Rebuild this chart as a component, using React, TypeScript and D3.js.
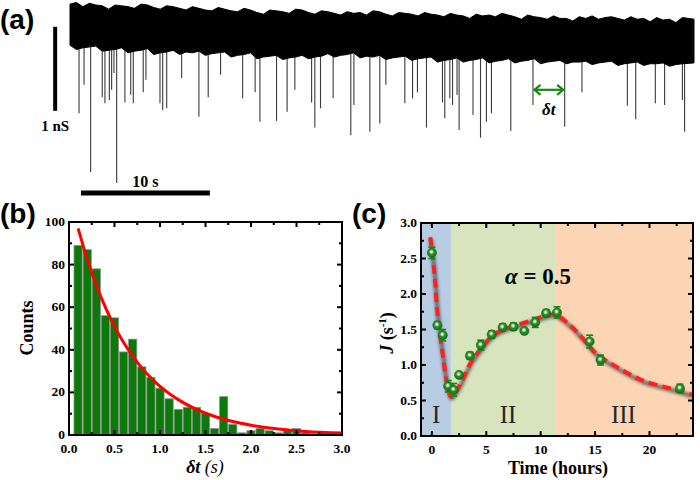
import React from 'react';
import * as d3 from 'd3';

// ---------- Panel (a): conductance trace ----------
const traceTimes = d3.range(0, 48, 0.5).concat([48.4]); // seconds
const traceTop = [0.07, 0.09, 0.04, 0.08, 0.06, 0.05, 0.01, 0.06, 0.05, 0.04, 0.02, 0.07, 0.06, 0.03, 0.01, 0.05, 0.04, 0.02, 0.0, 0.04, 0.02, 0.0, -0.01, 0.03, 0.01, -0.01, -0.02, 0.02, 0.0, -0.03, -0.05, 0.0, -0.01, -0.02, -0.04, 0.01, 0.0, -0.03, -0.05, -0.01, -0.02, -0.04, -0.06, -0.02, -0.04, -0.03, -0.06, -0.01, -0.02, -0.05, -0.07, -0.03, -0.04, -0.05, -0.07, -0.03, -0.05, -0.06, -0.08, -0.04, -0.06, -0.07, -0.1, -0.05, -0.07, -0.06, -0.08, -0.04, -0.06, -0.08, -0.11, -0.06, -0.08, -0.09, -0.11, -0.07, -0.1, -0.1, -0.13, -0.08, -0.1, -0.07, -0.11, -0.09, -0.08, -0.1, -0.12, -0.08, -0.11, -0.1, -0.14, -0.09, -0.12, -0.11, -0.15, -0.09, -0.11];
const traceBottom = [-0.42, -0.47, -0.45, -0.44, -0.43, -0.49, -0.48, -0.47, -0.45, -0.51, -0.49, -0.48, -0.46, -0.53, -0.51, -0.5, -0.48, -0.53, -0.5, -0.51, -0.49, -0.54, -0.52, -0.51, -0.5, -0.56, -0.54, -0.53, -0.51, -0.58, -0.56, -0.55, -0.54, -0.59, -0.57, -0.56, -0.54, -0.58, -0.56, -0.55, -0.52, -0.56, -0.54, -0.53, -0.51, -0.57, -0.55, -0.56, -0.54, -0.59, -0.57, -0.56, -0.55, -0.6, -0.58, -0.57, -0.56, -0.62, -0.6, -0.59, -0.57, -0.62, -0.6, -0.59, -0.57, -0.63, -0.61, -0.6, -0.58, -0.63, -0.61, -0.6, -0.58, -0.64, -0.62, -0.61, -0.6, -0.64, -0.62, -0.62, -0.61, -0.65, -0.63, -0.62, -0.61, -0.66, -0.64, -0.63, -0.62, -0.66, -0.64, -0.64, -0.63, -0.67, -0.65, -0.64, -0.63];
const spikeTimes = [0.7, 1.09, 1.6, 2.5, 2.71, 3.05, 3.23, 3.41, 3.62, 4.26, 4.71, 4.91, 5.68, 5.89, 6.98, 7.19, 7.5, 8.66, 10.0, 10.72, 11.68, 13.39, 14.36, 14.73, 16.02, 16.84, 17.44, 18.74, 18.99, 19.43, 20.41, 21.78, 22.02, 23.26, 24.03, 24.5, 25.97, 26.57, 26.95, 27.65, 28.89, 29.07, 29.46, 29.67, 30.02, 30.18, 31.26, 31.84, 32.3, 32.69, 34.19, 35.91, 38.37, 39.71, 43.23, 43.88, 45.4, 46.12, 47.5, 47.67];
const spikeLevels = [-1.23, -0.89, -1.93, -1.04, -1.11, -1.07, -0.95, -0.75, -2.06, -1.1, -1.01, -1.11, -0.98, -0.83, -1.11, -1.19, -1.17, -0.81, -1.27, -1.04, -0.77, -1.05, -0.98, -1.33, -1.32, -1.21, -0.95, -1.1, -1.4, -1.17, -1.05, -1.49, -1.13, -1.45, -1.35, -0.89, -1.11, -1.05, -0.98, -1.4, -1.1, -1.29, -1.05, -1.13, -1.01, -1.43, -1.25, -1.52, -1.33, -1.23, -1.44, -1.13, -1.39, -0.98, -1.14, -1.3, -1.11, -1.13, -1.07, -1.45];

// ---------- Panel (b): histogram ----------
const binCenters = [0.1, 0.2, 0.3, 0.4, 0.5, 0.6, 0.7, 0.8, 0.9, 1.0, 1.1, 1.2, 1.3, 1.4, 1.5, 1.6, 1.7, 1.8, 1.9, 2.0, 2.1, 2.2, 2.3, 2.4, 2.5, 2.6, 2.7, 2.8, 2.9];
const binCounts = [89, 87, 78, 56, 55, 39, 45, 32, 27, 22, 17, 12, 13, 13, 10, 3, 18, 5, 1, 2, 3, 2, 1, 2, 3, 1, 0.5, 1, 0.5];
const fitX = [0.1, 0.2, 0.3, 0.4, 0.5, 0.6, 0.7, 0.8, 0.9, 1.0, 1.2, 1.4, 1.6, 1.8, 2.0, 2.3, 2.6, 3.0];
const fitY = [97, 82.6, 70.3, 59.9, 51.0, 43.4, 37.0, 31.5, 26.8, 22.8, 16.6, 12.0, 8.7, 6.3, 4.6, 2.8, 1.7, 0.9];
const bXTicks = [0, 0.5, 1.0, 1.5, 2.0, 2.5, 3.0];
const bXMinor = [0.25, 0.75, 1.25, 1.75, 2.25, 2.75];
const bYTicks = [0, 20, 40, 60, 80, 100];
const bYMinor = [10, 30, 50, 70, 90];

// ---------- Panel (c): rate vs time ----------
const hours = [0, 0.5, 1, 1.5, 2, 2.5, 3.5, 4.5, 5.5, 6.5, 7.5, 8.5, 9.5, 10.5, 11.5, 14.5, 15.5, 22.8];
const rate = [2.58, 1.56, 1.42, 0.7, 0.65, 0.86, 1.13, 1.28, 1.43, 1.53, 1.54, 1.48, 1.6, 1.73, 1.74, 1.33, 1.07, 0.67];
const rateErr = [0.08, 0.05, 0.08, 0.08, 0.09, 0.03, 0.05, 0.07, 0.05, 0.05, 0.05, 0.03, 0.07, 0.05, 0.08, 0.09, 0.07, 0.06];
const modelHours = [-0.15, 0.13, 0.3, 0.5, 0.75, 1.05, 1.3, 1.55, 1.8, 2.5, 3.6, 4.6, 5.6, 6.6, 7.8, 9.0, 10.2, 11.3, 12.7, 13.9, 15.1, 17.0, 19.4, 21.9, 24.0];
const modelRate = [2.8, 2.45, 2.17, 1.75, 1.42, 1.09, 0.81, 0.62, 0.55, 0.7, 1.04, 1.25, 1.42, 1.5, 1.56, 1.62, 1.68, 1.71, 1.56, 1.37, 1.16, 0.97, 0.78, 0.67, 0.58];
const phaseNames = ['I', 'II', 'III'];
const phaseStart = [-1, 1.75, 11.4];
const phaseEnd = [1.75, 11.4, 24];
const phaseLabelX = [0.4, 7.0, 17.6];
const cXTicks = [0, 5, 10, 15, 20];
const cXMinor = [2.5, 7.5, 12.5, 17.5, 22.5];
const cYTicks = [0, 0.5, 1.0, 1.5, 2.0, 2.5, 3.0];
const cYMinor = [0.25, 0.75, 1.25, 1.75, 2.25, 2.75];

const phaseColors = ['#b8cce4', '#d7e4bd', '#fcd5b4'];
const SERIF = '"Liberation Serif", "Times New Roman", serif';
const SANS = '"Liberation Sans", Arial, sans-serif';

type FrameProps = {
  x: d3.ScaleLinear<number, number>;
  y: d3.ScaleLinear<number, number>;
  xMajor: number[]; xMinor: number[]; yMajor: number[]; yMinor: number[];
  xFmt: (v: number) => string; yFmt: (v: number) => string;
};

function Frame({ x, y, xMajor, xMinor, yMajor, yMinor, xFmt, yFmt }: FrameProps) {
  const [x0, x1] = x.range();
  const [yb, yt] = y.range();
  const M = 5, m = 3;
  return (
    <g stroke="#000" strokeWidth={2}>
      {xMajor.map((v) => (
        <g key={'xM' + v}>
          <line x1={x(v)} x2={x(v)} y1={yb} y2={yb - M} />
          <line x1={x(v)} x2={x(v)} y1={yt} y2={yt + M} />
          <text x={x(v)} y={yb + 18} textAnchor="middle" stroke="none" fill="#000"
            fontFamily={SERIF} fontWeight="bold" fontSize={13.5}>{xFmt(v)}</text>
        </g>
      ))}
      {xMinor.map((v) => (
        <g key={'xm' + v}>
          <line x1={x(v)} x2={x(v)} y1={yb} y2={yb - m} />
          <line x1={x(v)} x2={x(v)} y1={yt} y2={yt + m} />
        </g>
      ))}
      {yMajor.map((v) => (
        <g key={'yM' + v}>
          <line x1={x0} x2={x0 + M} y1={y(v)} y2={y(v)} />
          <line x1={x1} x2={x1 - M} y1={y(v)} y2={y(v)} />
          <text x={x0 - 4} y={y(v) + 4} textAnchor="end" stroke="none" fill="#000"
            fontFamily={SERIF} fontWeight="bold" fontSize={13.5}>{yFmt(v)}</text>
        </g>
      ))}
      {yMinor.map((v) => (
        <g key={'ym' + v}>
          <line x1={x0} x2={x0 + m} y1={y(v)} y2={y(v)} />
          <line x1={x1} x2={x1 - m} y1={y(v)} y2={y(v)} />
        </g>
      ))}
      <rect x={x0} y={yt} width={x1 - x0} height={yb - yt} fill="none" />
    </g>
  );
}

export default function App() {
  // Panel (a) scales
  const xA = d3.scaleLinear().domain([0, 48.4]).range([70, 694]);
  const yA = d3.scaleLinear().domain([0, -1]).range([10, 94]);
  const band = d3.area<number>()
    .x((t) => xA(t))
    .y0((_, i) => yA(traceBottom[i]))
    .y1((_, i) => yA(traceTop[i]))
    .curve(d3.curveLinear);
  const bandPath = band(traceTimes) || '';

  // Panel (b) scales
  const xB = d3.scaleLinear().domain([0, 3]).range([69, 342]);
  const yB = d3.scaleLinear().domain([0, 100]).range([435, 222]);
  const fitLine = d3.line<number>().x((_, i) => xB(fitX[i])).y((_, i) => yB(fitY[i])).curve(d3.curveMonotoneX);
  const barW = xB(0.09) - xB(0);

  // Panel (c) scales
  const xC = d3.scaleLinear().domain([-1, 24]).range([421, 693]);
  const yC = d3.scaleLinear().domain([0, 3]).range([436, 223]);
  const modelLine = d3.line<number>().x((_, i) => xC(modelHours[i])).y((_, i) => yC(modelRate[i])).curve(d3.curveCatmullRom.alpha(0.5));
  const modelPath = modelLine(modelHours) || '';

  const green = '#138a13';
  const arrowY = yA(-0.95);
  const ax0 = xA(35.95), ax1 = xA(38.33);

  return (
    <svg width={700} height={480} viewBox="0 0 700 480"
      style={{ position: 'absolute', left: 0, top: 0, background: '#fff' }}>
      <defs>
        <filter id="blur" x="-10%" y="-10%" width="120%" height="120%">
          <feGaussianBlur stdDeviation={1.8} />
        </filter>
        <radialGradient id="ball" cx="45%" cy="40%" r="60%">
          <stop offset="0%" stopColor="#ffffff" />
          <stop offset="22%" stopColor="#b5dcaa" />
          <stop offset="45%" stopColor="#2c8f2c" />
          <stop offset="100%" stopColor="#156f15" />
        </radialGradient>
        <clipPath id="clipC">
          <rect x={xC.range()[0]} y={yC.range()[1]} width={xC.range()[1] - xC.range()[0]} height={yC.range()[0] - yC.range()[1]} />
        </clipPath>
        <clipPath id="clipB">
          <rect x={xB.range()[0]} y={yB.range()[1]} width={xB.range()[1] - xB.range()[0]} height={yB.range()[0] - yB.range()[1]} />
        </clipPath>
      </defs>

      {/* ---------------- Panel (a) ---------------- */}
      <text x={0} y={29} fontFamily={SANS} fontWeight="bold" fontSize={28}>(a)</text>
      <g stroke="#3a3a3a" strokeWidth={1.1}>
        {spikeTimes.map((t, i) => (
          <line key={'sp' + i} x1={xA(t)} x2={xA(t)} y1={yA(-0.3)} y2={yA(spikeLevels[i])} />
        ))}
      </g>
      <path d={bandPath} fill="#000" stroke="#000" strokeWidth={1} strokeLinejoin="miter" />
      {/* vertical scale bar: 1 nS */}
      <line x1={xA(-1.15)} x2={xA(-1.15)} y1={yA(-0.2)} y2={yA(-1.2)} stroke="#000" strokeWidth={4} />
      <text x={xA(-1.15)} y={131} textAnchor="middle" fontFamily={SERIF} fontWeight="bold" fontSize={15}>1 nS</text>
      {/* horizontal scale bar: 10 s */}
      <line x1={xA(0.85)} x2={xA(10.85)} y1={yA(-2.18)} y2={yA(-2.18)} stroke="#000" strokeWidth={5} />
      <text x={xA(5.85)} y={187} textAnchor="middle" fontFamily={SERIF} fontWeight="bold" fontSize={16}>10 s</text>
      {/* delta t arrow */}
      <g stroke={green} strokeWidth={2.2} fill="none">
        <line x1={ax0 + 1} x2={ax1 - 1} y1={arrowY} y2={arrowY} />
        <polyline points={`${ax0 + 7},${arrowY - 5} ${ax0 + 1},${arrowY} ${ax0 + 7},${arrowY + 5}`} />
        <polyline points={`${ax1 - 7},${arrowY - 5} ${ax1 - 1},${arrowY} ${ax1 - 7},${arrowY + 5}`} />
      </g>
      <text x={(ax0 + ax1) / 2} y={115} textAnchor="middle" fontFamily={SERIF} fontStyle="italic" fontWeight="bold" fontSize={17}>δt</text>

      {/* ---------------- Panel (b) ---------------- */}
      <text x={0} y={223} fontFamily={SANS} fontWeight="bold" fontSize={28}>(b)</text>
      <g clipPath="url(#clipB)">
        {binCenters.map((c, i) => (
          <rect key={'bar' + i} x={xB(c) - barW / 2} y={yB(binCounts[i])} width={barW}
            height={yB(0) - yB(binCounts[i])} fill="#0b7a0b" stroke="#8c8c8c" strokeWidth={0.8} />
        ))}
        <path d={fitLine(fitX) || ''} fill="none" stroke="#ff0000" strokeWidth={3} />
      </g>
      <Frame x={xB} y={yB} xMajor={bXTicks} xMinor={bXMinor} yMajor={bYTicks} yMinor={bYMinor}
        xFmt={(v) => v.toFixed(1)} yFmt={(v) => String(v)} />
      <text transform="translate(33,328) rotate(-90)" textAnchor="middle" fontFamily={SERIF} fontWeight="bold" fontSize={18}>Counts</text>
      <text x={205} y={473} textAnchor="middle" fontFamily={SERIF} fontSize={18}>
        <tspan fontStyle="italic" fontWeight="bold">δt</tspan>
        <tspan fontStyle="italic"> (s)</tspan>
      </text>

      {/* ---------------- Panel (c) ---------------- */}
      <text x={352} y={223} fontFamily={SANS} fontWeight="bold" fontSize={28}>(c)</text>
      <g clipPath="url(#clipC)">
        {phaseNames.map((p, i) => (
          <rect key={'ph' + p} x={xC(phaseStart[i])} y={yC(3)} width={xC(phaseEnd[i]) - xC(phaseStart[i])}
            height={yC(0) - yC(3)} fill={phaseColors[i]} />
        ))}
        {phaseNames.map((p, i) => (
          <text key={'pl' + p} x={xC(phaseLabelX[i])} y={423} textAnchor="middle"
            fontFamily={SERIF} fontSize={25} fill="#262626">{p}</text>
        ))}
        <path d={modelPath} fill="none" stroke="#444" strokeOpacity={0.7} strokeWidth={4.5}
          filter="url(#blur)" transform="translate(0.5,1.5)" />
        <path d={modelPath} fill="none" stroke="#ff2020" strokeWidth={4} strokeDasharray="9,5" />
        <g>
          {hours.map((h, i) => (
            <g key={'pt' + i}>
              <g stroke={green} strokeWidth={1.6}>
                <line x1={xC(h)} x2={xC(h)} y1={yC(rate[i] - rateErr[i])} y2={yC(rate[i] + rateErr[i])} />
                <line x1={xC(h) - 3.5} x2={xC(h) + 3.5} y1={yC(rate[i] - rateErr[i])} y2={yC(rate[i] - rateErr[i])} />
                <line x1={xC(h) - 3.5} x2={xC(h) + 3.5} y1={yC(rate[i] + rateErr[i])} y2={yC(rate[i] + rateErr[i])} />
              </g>
              <circle cx={xC(h)} cy={yC(rate[i])} r={4.6} fill="url(#ball)" stroke="#0f6e0f" strokeWidth={0.6} />
            </g>
          ))}
        </g>
        <text x={xC(9.75)} y={284} textAnchor="middle" fontFamily={SERIF} fontWeight="bold" fontSize={23}>
          <tspan fontStyle="italic">α</tspan> = 0.5
        </text>
      </g>
      <Frame x={xC} y={yC} xMajor={cXTicks} xMinor={cXMinor} yMajor={cYTicks} yMinor={cYMinor}
        xFmt={(v) => String(v)} yFmt={(v) => v.toFixed(1)} />
      <text transform="translate(393,333) rotate(-90)" textAnchor="middle" fontFamily={SERIF} fontWeight="bold" fontSize={18}>
        <tspan fontStyle="italic">J</tspan>
        <tspan> (s</tspan>
        <tspan fontSize={11} dy={-7}>-1</tspan>
        <tspan dy={7}>)</tspan>
      </text>
      <text x={558} y={474} textAnchor="middle" fontFamily={SERIF} fontWeight="bold" fontSize={18}>Time (hours)</text>
    </svg>
  );
}
